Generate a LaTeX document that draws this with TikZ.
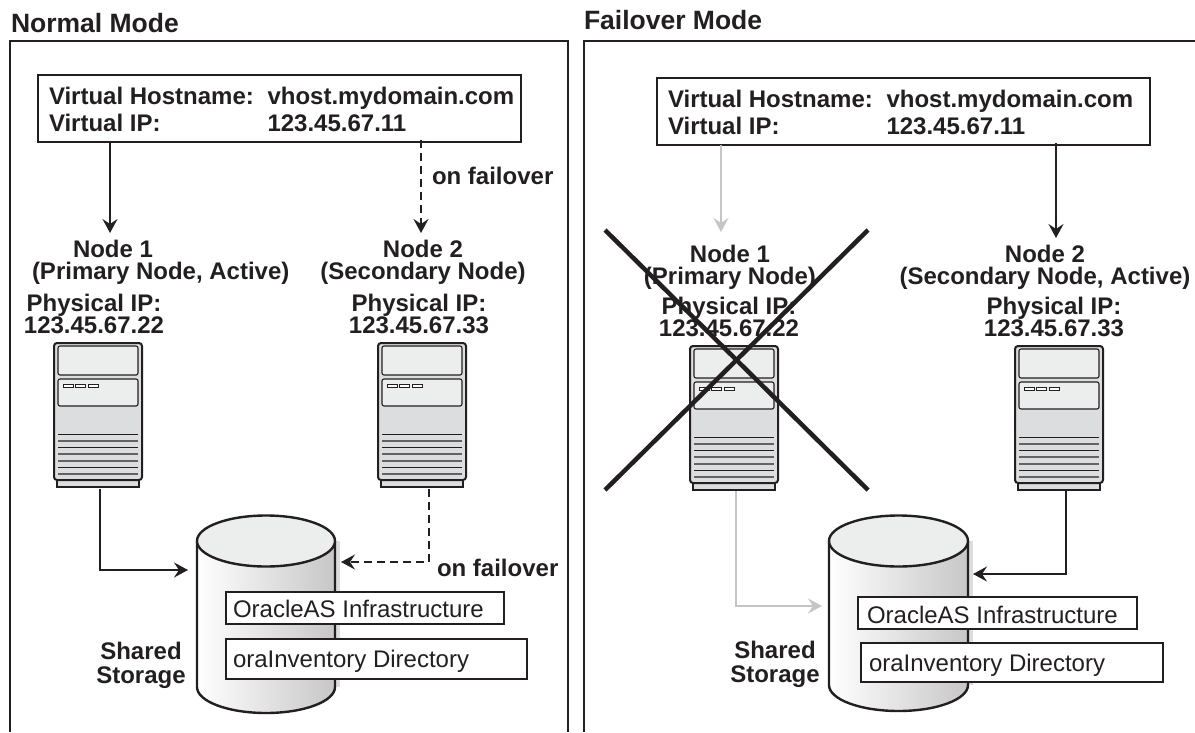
\documentclass[tikz,border=0pt]{standalone}
\usepackage{fontspec}
\setmainfont{Liberation Sans}
\usetikzlibrary{arrows.meta,shadings}
\definecolor{ink}{HTML}{231F20}
\definecolor{ghost}{HTML}{C4C5C7}
\definecolor{bodyg}{HTML}{DCDDDE}
\definecolor{panelg}{HTML}{ECEDED}
\tikzset{
  x=1pt,y=-1pt,
  every node/.style={text=ink,inner sep=0pt,outer sep=0pt},
  frameline/.style={draw=ink,line width=2.4pt},
  boxed/.style={draw=ink,line width=2.4pt,fill=white},
  title/.style={font=\fontsize{26.5}{28}\selectfont\bfseries,anchor=base west},
  head/.style={font=\fontsize{24}{25}\selectfont\bfseries,anchor=base west},
  lbl/.style={font=\fontsize{24}{22}\selectfont\bfseries,align=center,anchor=center},
  plain/.style={font=\fontsize{24}{25}\selectfont,anchor=base west},
  flow/.style={draw=ink,line width=2.4pt,-{Stealth[length=14pt,width=15pt,inset=5pt]}},
  flowd/.style={flow,dash pattern=on 8pt off 5pt},
  flowg/.style={flow,draw=ghost},
  cross/.style={draw=ink,line width=4.5pt},
}
\newcommand{\vhost}[4]{% x1 y1 x2 y2
  \draw[boxed] (#1,#2) rectangle (#3,#4);
  \node[head] at ([xshift=11pt]#1,#2+29.5) {Virtual Hostname:};
  \node[head] at ([xshift=229.5pt]#1,#2+29.5) {vhost.mydomain.com};
  \node[head] at ([xshift=11pt]#1,#2+56) {Virtual IP:};
  \node[head] at ([xshift=229.5pt]#1,#2+56) {123.45.67.11};
}
\newcommand{\server}[2]{% left x, top y
  \begin{scope}[shift={(#1,#2)}]
    \draw[ink,line width=1.8pt,fill=bodyg] (3,137) rectangle (85,144);
    \draw[ink,line width=2pt,fill=bodyg,rounded corners=3pt] (0,0) rectangle (88,137);
    \draw[ink,line width=1.1pt,fill=panelg,rounded corners=2pt] (4,3) rectangle (84,32);
    \draw[ink,line width=1.1pt,fill=panelg,rounded corners=2pt] (4,36) rectangle (84,63);
    \foreach \a in {9,21,34} \draw[ink,line width=1pt,fill=white] (\a,41) rectangle (\a+10,44);
    \foreach \v in {91,104,124} \draw[ink,line width=.9pt] (4,\v) -- (84,\v);
    \foreach \v in {98,111,118,131} \draw[ink!70,line width=1.5pt] (4,\v) -- (84,\v);
  \end{scope}
}
\newcommand{\cyl}[4]{% left x, right x, ellipse center y, side bottom y
  \pgfmathsetmacro{\cx}{(#1+#2)/2}
  \pgfmathsetmacro{\rx}{(#2-#1)/2}
  \fill[bodyg] (#2,#3) rectangle (#2+5,#4);
  \path[left color=white,right color=black!22]
    (#1,#3) -- (#1,#4) arc[start angle=180,end angle=360,x radius=\rx,y radius=-26] -- (#2,#3) -- cycle;
  \draw[ink,line width=2.4pt] (#1,#3) -- (#1,#4) arc[start angle=180,end angle=360,x radius=\rx,y radius=-26] -- (#2,#3);
  \draw[ink,line width=2.4pt,fill=panelg] (\cx,#3) ellipse[x radius=\rx,y radius=25.5];
}
\begin{document}
\begin{tikzpicture}
\useasboundingbox (0,0) rectangle (1195,732);
% frames
\coordinate (la) at (10,732); \coordinate (lb) at (10,41); \coordinate (lc) at (568,41); \coordinate (ld) at (568,732);
\draw[frameline] (la) -- (lb) -- (lc) -- (ld);
\coordinate (ra) at (584,732); \coordinate (rb) at (584,41); \coordinate (rc) at (1195,41);
\draw[frameline] (ra) -- (rb) -- (rc);
\node[title] (t1) at (11,32) {Normal Mode};
\node[title] (t2) at (584,29) {Failover Mode};
% ---- left
\vhost{38}{75}{521}{142}
\coordinate (v1a) at (110,142); \coordinate (v1b) at (110,233);
\coordinate (v2a) at (421,140); \coordinate (v2b) at (421,233);
\draw[flow] (v1a) -- (v1b);
\draw[flowd] (v2a) -- (v2b);
\node[head] (of1) at (432,184) {on failover};
\node[lbl,align=left,anchor=west] (n1) at (32,262) {\hspace*{41pt}Node 1\\(Primary Node, Active)};
\node[lbl] (n2) at (423,262) {Node 2\\(Secondary Node)};
\node[lbl] (p1) at (94,314) {Physical IP:\\123.45.67.22};
\node[lbl] (p2) at (419,314) {Physical IP:\\123.45.67.33};
\server{54}{343}
\server{378}{343}
\cyl{197}{335}{541}{687}
\coordinate (s1a) at (100,489); \coordinate (s1b) at (100,570); \coordinate (s1c) at (188,570);
\draw[flow] (s1a) -- (s1b) -- (s1c);
\coordinate (s2a) at (429,489); \coordinate (s2b) at (429,562); \coordinate (s2c) at (341,562);
\draw[flowd] (s2a) -- (s2b) -- (s2c);
\node[head] (of2) at (437,576) {on failover};
\node[lbl] (sh1) at (141,665) {Shared\\[2pt]Storage};
\node[boxed,anchor=north west,minimum width=278pt,minimum height=32pt] (o1) at (226,592) {};
\node[plain] at (233,617) {OracleAS Infrastructure};
\node[boxed,anchor=north west,minimum width=301pt,minimum height=40pt] (o2) at (226,639) {};
\node[plain] at (233,667) {oraInventory Directory};
% ---- right
\vhost{657}{78}{1150}{145}
\coordinate (w1a) at (721,145); \coordinate (w1b) at (721,232);
\coordinate (w2a) at (1056,143); \coordinate (w2b) at (1056,238);
\draw[flowg] (w1a) -- (w1b);
\draw[flow] (w2a) -- (w2b);
\node[lbl] (n3) at (730,267) {Node 1\\(Primary Node)};
\node[lbl] (n4) at (1045,267) {Node 2\\(Secondary Node, Active)};
\node[lbl] (p3) at (729,317) {Physical IP:\\123.45.67.22};
\node[lbl] (p4) at (1054,317) {Physical IP:\\123.45.67.33};
\server{690}{346}
\server{1015}{346}
\cyl{829}{968}{541}{685}
\coordinate (x1a) at (736,491); \coordinate (x1b) at (736,606); \coordinate (x1c) at (822,606);
\draw[flowg] (x1a) -- (x1b) -- (x1c);
\coordinate (x2a) at (1066,491); \coordinate (x2b) at (1066,574); \coordinate (x2c) at (973,574);
\draw[flow] (x2a) -- (x2b) -- (x2c);
\node[lbl] (sh2) at (775,664) {Shared\\[2pt]Storage};
\node[boxed,anchor=north west,minimum width=279pt,minimum height=32pt] (o3) at (858,597) {};
\node[plain] at (867,623) {OracleAS Infrastructure};
\node[boxed,anchor=north west,minimum width=302pt,minimum height=39pt] (o4) at (861,643) {};
\node[plain] at (869,671) {oraInventory Directory};
% cross
\coordinate (c1) at (605,230); \coordinate (c2) at (868,490); \coordinate (c3) at (868,230); \coordinate (c4) at (605,490);
\draw[cross] (c1) -- (c2);
\draw[cross] (c3) -- (c4);
\end{tikzpicture}
\end{document}
